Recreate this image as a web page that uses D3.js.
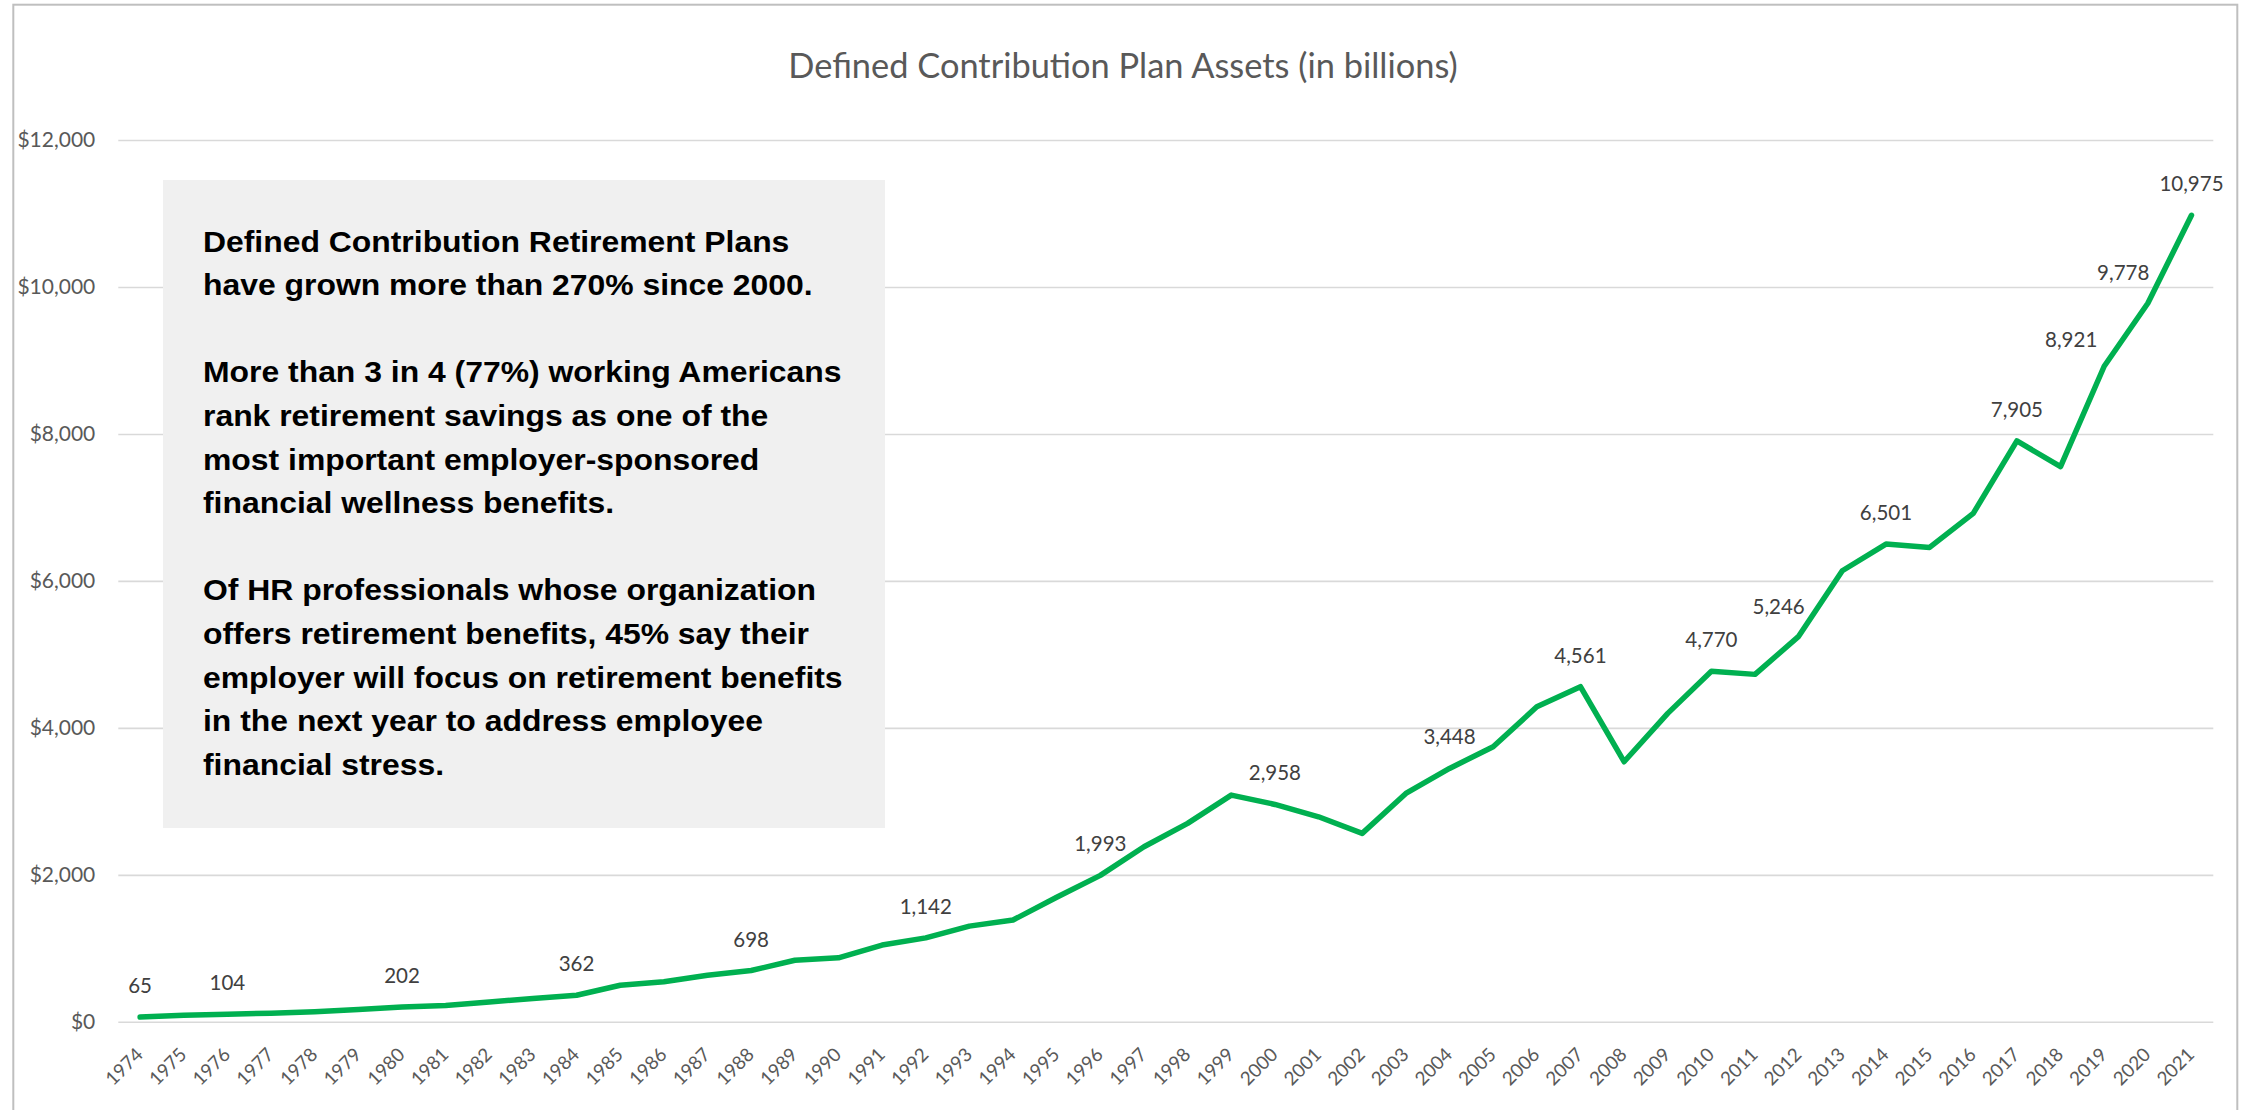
<!DOCTYPE html>
<html>
<head>
<meta charset="utf-8">
<script src="https://cdn.jsdelivr.net/npm/d3@7"></script>
<style>
  html, body { margin: 0; padding: 0; background: #ffffff; overflow: hidden; }
  svg { display: block; }
</style>
</head>
<body>
<svg id="chart" width="2249" height="1110"></svg>
<script>
// Defined contribution plan assets, in billions of dollars, by year
const years = [1974, 1975, 1976, 1977, 1978, 1979, 1980, 1981, 1982, 1983,
  1984, 1985, 1986, 1987, 1988, 1989, 1990, 1991, 1992, 1993,
  1994, 1995, 1996, 1997, 1998, 1999, 2000, 2001, 2002, 2003,
  2004, 2005, 2006, 2007, 2008, 2009, 2010, 2011, 2012, 2013,
  2014, 2015, 2016, 2017, 2018, 2019, 2020, 2021];

const assets = [65, 88, 104, 116, 138, 168, 202, 223, 270, 318,
  362, 498, 546, 634, 698, 838, 870, 1044, 1142, 1302,
  1385, 1695, 1993, 2382, 2700, 3085, 2958, 2790, 2564, 3108,
  3448, 3743, 4287, 4561, 3539, 4197, 4770, 4728, 5246, 6138,
  6501, 6456, 6919, 7905, 7554, 8921, 9778, 10975];

// Years whose value is printed above the line
const labeledYears = [1974, 1976, 1980, 1984, 1988, 1992, 1996, 2000, 2004,
  2007, 2010, 2012, 2014, 2017, 2019, 2020, 2021];

const yTicks = [0, 2000, 4000, 6000, 8000, 10000, 12000];

const chartTitle = "Defined Contribution Plan Assets (in billions)";

const calloutLines = [
  "Defined Contribution Retirement Plans",
  "have grown more than 270% since 2000.",
  "",
  "More than 3 in 4 (77%) working Americans",
  "rank retirement savings as one of the",
  "most important employer-sponsored",
  "financial wellness benefits.",
  "",
  "Of HR professionals whose organization",
  "offers retirement benefits, 45% say their",
  "employer will focus on retirement benefits",
  "in the next year to address employee",
  "financial stress."
];

const svg = d3.select("#chart");
const data = years.map((yr, i) => ({ year: yr, value: assets[i] }));

const plot = { left: 118.3, right: 2213.3, top: 140, bottom: 1021.8 };

const x = d3.scalePoint()
  .domain(years)
  .range([plot.left, plot.right])
  .padding(0.5);

const y = d3.scaleLinear()
  .domain([0, 12000])
  .range([plot.bottom, plot.top]);

// Chart frame
svg.append("rect")
  .attr("x", 13.3).attr("y", 4.7)
  .attr("width", 2224).attr("height", 1120)
  .attr("fill", "#ffffff")
  .attr("stroke", "#bfbfbf")
  .attr("stroke-width", 2);

// Title
svg.append("text")
  .attr("x", 1123).attr("y", 78.3)
  .attr("text-anchor", "middle")
  .attr("font-family", "Lato, 'Open Sans', sans-serif")
  .attr("font-size", 34.4)
  .attr("fill", "#595959")
  .text(chartTitle);

// Horizontal gridlines and value axis labels
const yAxis = d3.axisLeft(y)
  .tickValues(yTicks)
  .tickSize(-(plot.right - plot.left))
  .tickPadding(23)
  .tickFormat(d => "$" + d3.format(",")(d));

const yg = svg.append("g")
  .attr("transform", `translate(${plot.left},0)`)
  .call(yAxis);
yg.select(".domain").remove();
yg.selectAll(".tick line")
  .attr("stroke", "#d9d9d9")
  .attr("stroke-width", 1.6);
yg.selectAll(".tick text")
  .attr("font-family", "Lato, 'Open Sans', sans-serif")
  .attr("font-size", 21)
  .attr("fill", "#595959");

// Category axis with rotated year labels
const xAxis = d3.axisBottom(x).tickSize(0).tickPadding(0);
const xg = svg.append("g")
  .attr("transform", `translate(0,${plot.bottom})`)
  .call(xAxis);
xg.select(".domain").remove();
xg.selectAll(".tick text")
  .attr("font-family", "Lato, 'Open Sans', sans-serif")
  .attr("font-size", 18.8)
  .attr("fill", "#595959")
  .attr("text-anchor", "end")
  .attr("dy", 0)
  .attr("y", 0)
  .attr("transform", "translate(3.5,34) rotate(-45)");

// Callout box
const box = { x: 163, y: 180, w: 722, h: 648 };
svg.append("rect")
  .attr("x", box.x).attr("y", box.y)
  .attr("width", box.w).attr("height", box.h)
  .attr("fill", "#f0f0f0");

const callout = svg.append("g")
  .attr("transform", `translate(203,251.7) scale(1.1,1)`);
callout.selectAll("text")
  .data(calloutLines)
  .join("text")
  .attr("x", 0)
  .attr("y", (d, i) => i * 43.6)
  .attr("font-family", "'Liberation Sans', Arial, sans-serif")
  .attr("font-weight", "bold")
  .attr("font-size", 29)
  .attr("fill", "#000000")
  .text(d => d);

// Asset line
const line = d3.line()
  .x(d => x(d.year))
  .y(d => y(d.value));

svg.append("path")
  .datum(data)
  .attr("d", line)
  .attr("fill", "none")
  .attr("stroke", "#00b050")
  .attr("stroke-width", 5.5)
  .attr("stroke-linejoin", "round")
  .attr("stroke-linecap", "round");

// Value labels sit above their point; a few are nudged left so they clear the steep line
const labelNudge = { 2012: [-20, 1.8], 2019: [-33, 5], 2020: [-24.6, 0.7] };

svg.append("g")
  .selectAll("text")
  .data(data.filter(d => labeledYears.includes(d.year)))
  .join("text")
  .attr("x", d => x(d.year) + (labelNudge[d.year] ? labelNudge[d.year][0] : 0))
  .attr("y", d => y(d.value) - 24 + (labelNudge[d.year] ? labelNudge[d.year][1] : 0))
  .attr("text-anchor", "middle")
  .attr("font-family", "Lato, 'Open Sans', sans-serif")
  .attr("font-size", 20.5)
  .attr("fill", "#404040")
  .text(d => d3.format(",")(d.value));
</script>
</body>
</html>
